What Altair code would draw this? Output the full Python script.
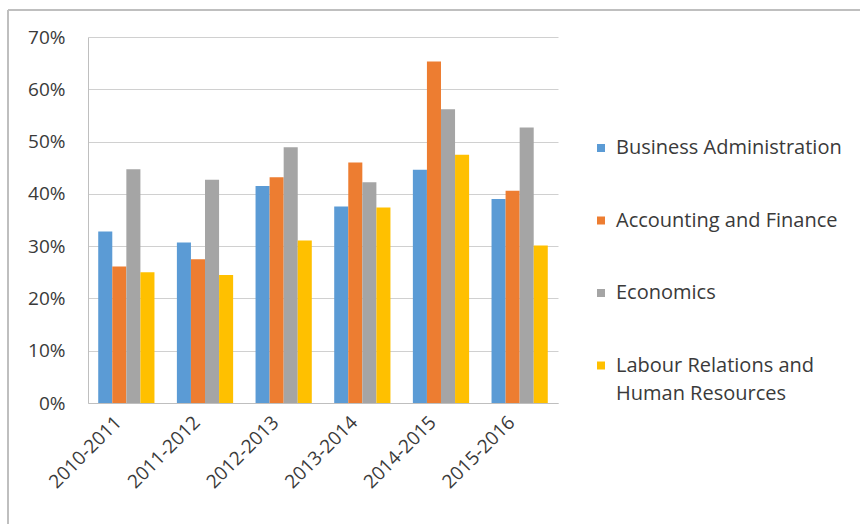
import altair as alt
import pandas as pd

years = ["2010-2011", "2011-2012", "2012-2013", "2013-2014", "2014-2015", "2015-2016"]
programs = ["Business Administration", "Accounting and Finance", "Economics",
            "Labour Relations and Human Resources"]
business = [0.328, 0.307, 0.415, 0.376, 0.446, 0.390]
accounting = [0.261, 0.275, 0.432, 0.460, 0.653, 0.406]
economics = [0.447, 0.427, 0.489, 0.422, 0.562, 0.527]
labour = [0.250, 0.245, 0.311, 0.374, 0.475, 0.301]
colors = ["#5B9BD5", "#ED7D31", "#A5A5A5", "#FFC000"]

rows = []
for prog, vals in zip(programs, [business, accounting, economics, labour]):
    for y, v in zip(years, vals):
        rows.append({"year": y, "program": prog, "value": v})
df = pd.DataFrame(rows)

FONT = "Open Sans"
TXT = "#3a3a3a"
FS = 19

bars = alt.Chart(df).mark_bar(strokeWidth=0).encode(
    x=alt.X("year:N", sort=years, title=None,
            scale=alt.Scale(paddingInner=0.285, paddingOuter=0.13),
            axis=alt.Axis(labelAngle=-45, labelAlign="right", labelBaseline="middle",
                          labelPadding=16, labelOffset=-8, ticks=False, domain=True,
                          domainColor="#bfbfbf", labelFont=FONT, labelFontSize=FS,
                          labelColor=TXT, grid=False)),
    xOffset=alt.XOffset("program:N", sort=programs,
                        scale=alt.Scale(paddingInner=0, paddingOuter=0)),
    y=alt.Y("value:Q", title=None,
            scale=alt.Scale(domain=[0, 0.7], nice=False),
            axis=alt.Axis(format=".0%", values=[0, 0.1, 0.2, 0.3, 0.4, 0.5, 0.6, 0.7],
                          ticks=False, labelPadding=23, domain=True, domainColor="#bfbfbf",
                          gridColor="#d0d0d0", labelFont=FONT, labelFontSize=FS,
                          labelColor=TXT)),
    color=alt.Color("program:N", sort=programs,
                    scale=alt.Scale(domain=programs, range=colors),
                    legend=alt.Legend(title=None, orient="none", legendX=503, legendY=101,
                                      symbolType="square", symbolSize=64,
                                      symbolStrokeWidth=0, labelFont=FONT,
                                      labelFontSize=20, labelColor=TXT,
                                      rowPadding=52.5, labelLimit=400, labelOffset=5,
                                      labelExpr="datum.label == 'Labour Relations and Human Resources' ? ['Labour Relations and', 'Human Resources'] : datum.label")),
)

frame_left = alt.Chart(df).mark_rule(color="#bfbfbf", strokeWidth=1.5).encode(
    x=alt.value(-80), y=alt.value(-27), y2=alt.value(487))
frame_top = alt.Chart(df).mark_rule(color="#bfbfbf", strokeWidth=1.5).encode(
    x=alt.value(-80), x2=alt.value(772), y=alt.value(-27))

chart = alt.layer(bars, frame_left, frame_top).properties(
    width=470, height=366,
    autosize=alt.AutoSizeParams(type="none"),
    padding={"left": 88, "top": 37, "right": 302, "bottom": 121},
    background="white",
).configure(
    style={"guide-label": {"lineHeight": 28}},
    view=alt.ViewConfig(stroke=None),
)

chart.save("out.html", embed_options={"renderer": "svg", "actions": False})
